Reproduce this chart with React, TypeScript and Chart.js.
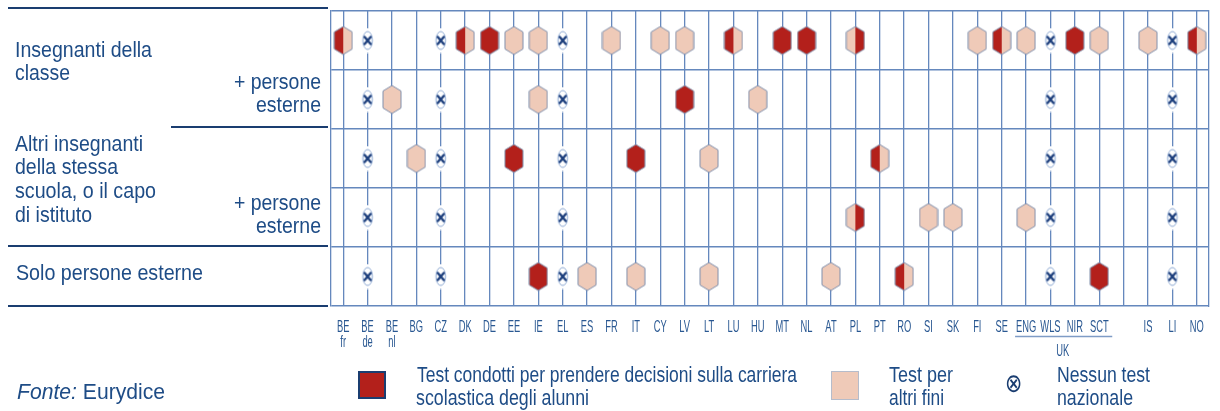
import React, { useEffect, useRef } from 'react';
import { Chart, registerables } from 'chart.js';

Chart.register(...registerables);

// ---------------- DATA ----------------
const countries = ['BE', 'BE', 'BE', 'BG', 'CZ', 'DK', 'DE', 'EE', 'IE', 'EL', 'ES', 'FR', 'IT', 'CY', 'LV', 'LT', 'LU', 'HU', 'MT', 'NL', 'AT', 'PL', 'PT', 'RO', 'SI', 'SK', 'FI', 'SE', 'ENG', 'WLS', 'NIR', 'SCT', '', 'IS', 'LI', 'NO'];
const subLabels = ['fr', 'de', 'nl'];
const groupLabel = 'UK';
const groupMembers = ['ENG', 'WLS', 'NIR', 'SCT'];

const rowLabels = [
  'Insegnanti della classe',
  '+ persone esterne',
  'Altri insegnanti della stessa scuola, o il capo di istituto',
  '+ persone esterne',
  'Solo persone esterne',
];

// 'R' = test per decisioni sulla carriera, 'P' = test per altri fini,
// 'RP' / 'PR' = both (red half on left / right), 'X' = nessun test nazionale, '' = none
const rowClassTeachers = [
  'RP', 'X', '', '', 'X', 'RP',
  'R', 'P', 'P', 'X', '', 'P',
  '', 'P', 'P', '', 'RP', '',
  'R', 'R', '', 'PR', '', '',
  '', '', 'P', 'RP', 'P', 'X',
  'R', 'P', '', 'P', 'X', 'RP',
];
const rowClassTeachersExternal = [
  '', 'X', 'P', '', 'X', '',
  '', '', 'P', 'X', '', '',
  '', '', 'R', '', '', 'P',
  '', '', '', '', '', '',
  '', '', '', '', '', 'X',
  '', '', '', '', 'X', '',
];
const rowOtherTeachers = [
  '', 'X', '', 'P', 'X', '',
  '', 'R', '', 'X', '', '',
  'R', '', '', 'P', '', '',
  '', '', '', '', 'RP', '',
  '', '', '', '', '', 'X',
  '', '', '', '', 'X', '',
];
const rowOtherTeachersExternal = [
  '', 'X', '', '', 'X', '',
  '', '', '', 'X', '', '',
  '', '', '', '', '', '',
  '', '', '', 'PR', '', '',
  'P', 'P', '', '', 'P', 'X',
  '', '', '', '', 'X', '',
];
const rowExternalOnly = [
  '', 'X', '', '', 'X', '',
  '', '', 'R', 'X', 'P', '',
  'P', '', '', 'P', '', '',
  '', '', 'P', '', '', 'RP',
  '', '', '', '', '', 'X',
  '', 'R', '', '', 'X', '',
];
const rows = [rowClassTeachers, rowClassTeachersExternal, rowOtherTeachers, rowOtherTeachersExternal, rowExternalOnly];

const legendCareer = 'Test condotti per prendere decisioni sulla carriera scolastica degli alunni';
const legendOther = 'Test per altri fini';
const legendNone = 'Nessun test nazionale';

// ---------------- STYLE ----------------
const RED = '#b3201b';
const PEACH = '#efcab8';
const GRID = '#6588bd';
const NAVY = '#1a3d70';
const TEXT = '#1e4c86';
const FONT = '"Liberation Sans", Arial, sans-serif';

function makeHex(left: string, right: string) {
  const w = 20, h = 30;
  const c = document.createElement('canvas');
  c.width = w; c.height = h;
  const ctx = c.getContext('2d') as CanvasRenderingContext2D;
  const cx = w / 2, top = 1, bot = h - 1, sh = 5.5, l = 1, r = w - 1;
  const path = () => {
    ctx.beginPath();
    ctx.moveTo(cx, top);
    ctx.lineTo(r, top + sh);
    ctx.lineTo(r, bot - sh);
    ctx.lineTo(cx, bot);
    ctx.lineTo(l, bot - sh);
    ctx.lineTo(l, top + sh);
    ctx.closePath();
  };
  ctx.save();
  path();
  ctx.clip();
  ctx.fillStyle = left;
  ctx.fillRect(0, 0, cx, h);
  ctx.fillStyle = right;
  ctx.fillRect(cx, 0, w - cx, h);
  ctx.restore();
  path();
  ctx.strokeStyle = '#8090ad';
  ctx.lineWidth = 1;
  ctx.stroke();
  return c;
}

function makeNone() {
  const w = 14, h = 26;
  const c = document.createElement('canvas');
  c.width = w; c.height = h;
  const ctx = c.getContext('2d') as CanvasRenderingContext2D;
  ctx.fillStyle = '#ffffff';
  ctx.beginPath();
  ctx.ellipse(w / 2, h / 2, 6.5, 12.5, 0, 0, Math.PI * 2);
  ctx.fill();
  ctx.strokeStyle = '#8eaad4';
  ctx.lineWidth = 1;
  ctx.beginPath();
  ctx.ellipse(w / 2, h / 2, 4.8, 9, 0, 0, Math.PI * 2);
  ctx.stroke();
  ctx.strokeStyle = '#1c3e7c';
  ctx.lineWidth = 2.4;
  ctx.lineCap = 'round';
  ctx.beginPath();
  ctx.moveTo(w / 2 - 3, h / 2 - 3.5);
  ctx.lineTo(w / 2 + 3, h / 2 + 3.5);
  ctx.moveTo(w / 2 + 3, h / 2 - 3.5);
  ctx.lineTo(w / 2 - 3, h / 2 + 3.5);
  ctx.stroke();
  return c;
}

function narrowText(ctx: CanvasRenderingContext2D, t: string, x: number, y: number, sx: number) {
  ctx.save();
  ctx.translate(x, y);
  ctx.scale(sx, 1);
  ctx.fillText(t, 0, 0);
  ctx.restore();
}

const axisLabelsPlugin = {
  id: 'axisLabels',
  afterDraw(chart: any) {
    const ctx = chart.ctx as CanvasRenderingContext2D;
    const xs = chart.scales.x;
    const base = chart.chartArea.bottom;
    ctx.save();
    ctx.fillStyle = '#2a5892';
    ctx.font = '17px ' + FONT;
    ctx.textAlign = 'center';
    ctx.textBaseline = 'alphabetic';
    countries.forEach((c, i) => {
      const x = xs.getPixelForValue(i);
      if (c) narrowText(ctx, c, x, base + 25.5, 0.55);
      if (subLabels[i]) narrowText(ctx, subLabels[i], x, base + 40.5, 0.55);
    });
    const idx = groupMembers.map((g) => countries.indexOf(g));
    const x1 = xs.getPixelForValue(idx[0]) - 11;
    const x2 = xs.getPixelForValue(idx[idx.length - 1]) + 13;
    ctx.strokeStyle = '#7f9cc6';
    ctx.lineWidth = 1.6;
    ctx.beginPath();
    ctx.moveTo(x1, base + 30.5);
    ctx.lineTo(x2, base + 30.5);
    ctx.stroke();
    const mid = (xs.getPixelForValue(idx[1]) + xs.getPixelForValue(idx[2])) / 2;
    narrowText(ctx, groupLabel, mid, base + 49.5, 0.55);
    ctx.restore();
  },
};

let measureCtx: CanvasRenderingContext2D | null = null;
function measure(text: string, fs: number, italic = false) {
  if (!measureCtx) measureCtx = document.createElement('canvas').getContext('2d');
  const ctx = measureCtx as CanvasRenderingContext2D;
  ctx.font = (italic ? 'italic ' : '') + fs + 'px ' + FONT;
  return ctx.measureText(text).width;
}

type Part = { text: string; italic?: boolean };
function FitText(props: { parts: Part[]; left: number; baseline: number; width: number; fs?: number; color?: string }) {
  const fs = props.fs || 22;
  const natural = props.parts.reduce((s, p) => s + measure(p.text, fs, p.italic), 0);
  const sx = props.width / natural;
  return (
    <div
      style={{
        position: 'absolute',
        left: props.left,
        top: props.baseline - 0.8465 * fs,
        fontSize: fs,
        lineHeight: fs + 'px',
        fontFamily: FONT,
        whiteSpace: 'pre',
        color: props.color || TEXT,
        transform: `scaleX(${sx})`,
        transformOrigin: '0 0',
      }}
    >
      {props.parts.map((p, i) => (
        <span key={i} style={{ fontStyle: p.italic ? 'italic' : 'normal' }}>{p.text}</span>
      ))}
    </div>
  );
}

function T(text: string, left: number, right: number, baseline: number) {
  return <FitText key={text + left + baseline} parts={[{ text }]} left={left} baseline={baseline} width={right - left} />;
}

function Rule(props: { x1: number; x2: number; y: number }) {
  return <div style={{ position: 'absolute', left: props.x1, top: props.y - 1, width: props.x2 - props.x1, height: 2, background: NAVY }} />;
}

export default function App() {
  const ref = useRef<HTMLCanvasElement>(null);

  useEffect(() => {
    const canvas = ref.current;
    if (!canvas) return;
    const styles: Record<string, HTMLCanvasElement> = {
      R: makeHex(RED, RED),
      P: makeHex(PEACH, PEACH),
      RP: makeHex(RED, PEACH),
      PR: makeHex(PEACH, RED),
      X: makeNone(),
    };
    const names: Record<string, string> = {
      R: legendCareer,
      P: legendOther,
      RP: 'Entrambi',
      PR: 'Entrambi ',
      X: legendNone,
    };
    const datasets = Object.keys(styles).map((code) => {
      const data: { x: number; y: number }[] = [];
      rows.forEach((row, r) => {
        row.forEach((v, i) => {
          if (v === code) data.push({ x: i, y: rows.length - r - 0.5 });
        });
      });
      return {
        label: names[code],
        data,
        pointStyle: styles[code],
        pointRadius: 10,
        pointHoverRadius: 10,
      };
    });

    const chart = new Chart(canvas, {
      type: 'scatter',
      data: { datasets } as any,
      options: {
        responsive: false,
        animation: false,
        events: [],
        layout: { padding: { left: 331, right: 3, top: 8, bottom: 0 } },
        plugins: { legend: { display: false }, tooltip: { enabled: false } },
        scales: {
          x: {
            type: 'linear',
            min: -0.5,
            max: countries.length - 0.5,
            afterBuildTicks: (s: any) => {
              s.ticks = countries.map((_, i) => ({ value: i }));
            },
            afterFit: (s: any) => {
              s.height = 105;
            },
            ticks: { display: false },
            grid: { color: GRID, lineWidth: 1.3, drawTicks: false },
            border: { display: false },
          },
          y: {
            type: 'linear',
            min: 0,
            max: rows.length,
            afterBuildTicks: (s: any) => {
              s.ticks = Array.from({ length: rows.length + 1 }, (_, i) => ({ value: i }));
            },
            afterFit: (s: any) => {
              s.width = 0;
            },
            ticks: { display: false },
            grid: { color: GRID, lineWidth: 1.6, drawTicks: false },
            border: { display: true, color: GRID, width: 1.3 },
          },
          y2: {
            type: 'linear',
            position: 'right',
            min: 0,
            max: rows.length,
            afterFit: (s: any) => {
              s.width = 0;
            },
            ticks: { display: false },
            grid: { display: false, drawTicks: false },
            border: { display: true, color: GRID, width: 1.3 },
          },
        },
      } as any,
      plugins: [axisLabelsPlugin],
    });
    return () => chart.destroy();
  }, []);

  return (
    <div style={{ position: 'absolute', left: 0, top: 0, width: 1220, height: 411, background: '#ffffff', overflow: 'hidden' }}>
      <canvas ref={ref} width={1220} height={411} style={{ position: 'absolute', left: 0, top: 0, width: 1220, height: 411 }} />

      {/* left panel separators */}
      <Rule x1={8} x2={328} y={8} />
      <Rule x1={171} x2={328} y={127} />
      <Rule x1={8} x2={328} y={246} />
      <Rule x1={8} x2={328} y={306} />

      {/* row labels: {rowLabels} laid out on lines */}
      {T('Insegnanti della', 15, 152, 58)}
      {T('classe', 15, 70, 81)}
      {T('+ persone', 234, 321, 90)}
      {T('esterne', 256, 321, 113)}
      {T('Altri insegnanti', 15, 143, 152)}
      {T('della stessa', 15, 118, 175)}
      {T('scuola, o il capo', 15, 156, 199)}
      {T('di istituto', 15, 92, 223)}
      {T('+ persone', 234, 321, 211)}
      {T('esterne', 256, 321, 234)}
      {T('Solo persone esterne', 16, 203, 281)}

      {/* source */}
      <FitText parts={[{ text: 'Fonte:', italic: true }, { text: ' Eurydice' }]} left={17} baseline={400} width={148} />

      {/* legend */}
      <div style={{ position: 'absolute', left: 358, top: 371, width: 24, height: 24, background: RED, border: '2px solid ' + NAVY }} />
      {T('Test condotti per prendere decisioni sulla carriera', 417, 797, 383)}
      {T('scolastica degli alunni', 416, 589, 406)}
      <div style={{ position: 'absolute', left: 831, top: 371, width: 26, height: 27, background: PEACH, border: '1px solid #b5bccb' }} />
      {T('Test per', 889, 953, 383)}
      {T('altri fini', 889, 944, 406)}
      <div style={{ position: 'absolute', left: 1005, top: 370, fontSize: 26, lineHeight: '26px', fontFamily: '"DejaVu Sans", sans-serif', color: NAVY, transform: 'scaleX(0.8)', transformOrigin: '0 0' }}>⊗</div>
      {T('Nessun test', 1057, 1150, 383)}
      {T('nazionale', 1057, 1133, 406)}
    </div>
  );
}
